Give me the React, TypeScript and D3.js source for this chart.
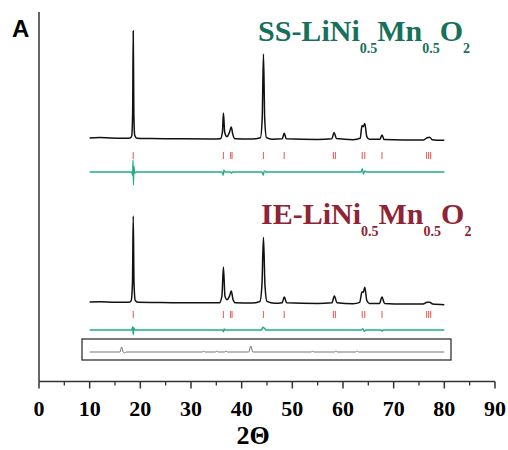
import React from "react";
import * as d3 from "d3";

// 2θ / intensity pairs
const ssPattern: [number, number][] = [
  [10, 2.8], [12, 3.1], [14, 2.8], [17, 2.6], [18.0, 2.8], [18.3, 4.5], [18.48, 25], [18.6, 100],
  [18.72, 25], [18.9, 5], [19.3, 2.6], [22, 2.3], [28, 2], [34, 1.8], [35.8, 2], [36.2, 8],
  [36.4, 25.5], [36.65, 8], [37.1, 4], [37.6, 8], [37.95, 12.7], [38.25, 6], [38.7, 2],
  [42, 1.8], [43.7, 3], [44.05, 20], [44.3, 79], [44.55, 20], [44.9, 3], [46, 1.6], [48.0, 2],
  [48.4, 7], [48.8, 2], [55, 1.4], [57.8, 2], [58.25, 7.7], [58.7, 2.2], [62, 1.2], [63.4, 2.5],
  [63.75, 14], [64.0, 13], [64.3, 16], [64.7, 4], [65.2, 1.5], [67.3, 1.6], [67.7, 5.5],
  [68.1, 1.4], [72, 1], [75.9, 1], [76.6, 3], [77.1, 3.5], [77.6, 1.2], [80, 0.6],
];

const iePattern: [number, number][] = [
  [10, 3.4], [12, 3.6], [15, 3.2], [17.8, 3.2], [18.2, 5], [18.45, 25], [18.6, 100],
  [18.75, 25], [19.0, 5], [19.5, 3], [24, 2.8], [30, 2.4], [35.6, 2.4], [36.1, 10],
  [36.4, 42.7], [36.7, 10], [37.1, 6], [37.6, 10], [37.95, 15.7], [38.3, 6], [38.8, 2.4],
  [42, 2.2], [43.6, 4], [44.0, 22], [44.3, 76], [44.6, 22], [45, 4], [46.5, 2], [48.0, 2.6],
  [48.4, 9], [48.9, 2.4], [55, 1.6], [57.8, 2.4], [58.3, 10], [58.8, 2.6], [62, 1.4],
  [63.3, 3], [63.75, 15], [64.0, 14], [64.3, 20], [64.7, 5], [65.2, 1.8], [67.2, 1.8],
  [67.7, 9], [68.2, 1.6], [72, 1], [75.8, 1], [76.6, 3], [77.1, 3.2], [77.7, 1], [80, 0.4],
];

// observed - calculated
const ssDiff: [number, number][] = [
  [10, 0], [18.3, 0], [18.48, -3], [18.56, 11], [18.64, -12], [18.74, 5], [18.9, -1], [19.2, 0],
  [36.1, 0], [36.35, -3], [36.5, 2], [36.7, 0], [37.8, 0], [38.0, -1], [38.2, 0],
  [44.0, 0], [44.25, -3], [44.45, 1], [44.7, 0], [63.6, 0], [63.8, 3], [64.05, -2],
  [64.3, 1], [64.6, 0], [80, 0],
];

const ieDiff: [number, number][] = [
  [10, 0], [18.3, 0], [18.5, 3], [18.6, -4], [18.72, 2], [18.9, 0], [36.2, 0], [36.4, -1.5],
  [36.55, 1], [36.8, 0], [43.9, 0], [44.2, 2.5], [44.5, 1.5], [44.8, 0], [63.6, 0],
  [63.9, 1.2], [64.2, -1.2], [64.5, 0], [67.5, 0], [67.7, -1], [67.9, 0], [80, 0],
];

// grey trace inside the bottom box
const boxTrace: [number, number][] = [
  [10, 0], [16.0, 0], [16.3, 5], [16.6, 0], [16.9, -0.8], [17.3, 0], [32.2, 0], [32.5, 0.8],
  [32.8, 0], [34.8, 0], [35.1, 0.8], [35.4, 0], [36.6, 0], [36.9, 0.8], [37.2, 0], [41.4, 0],
  [41.8, 6], [42.2, 0], [53.7, 0], [54.0, 0.7], [54.3, 0], [58.3, 0], [58.6, 1], [58.9, 0],
  [62.5, 0], [62.8, 1], [63.1, 0], [80, 0],
];

// Bragg reflection positions
const braggPositions = [18.6, 36.4, 37.8, 38.1, 44.3, 48.4, 58.1, 58.5, 63.8, 64.3, 67.7, 76.5, 76.9, 77.3];

const xTicks = [0, 10, 20, 30, 40, 50, 60, 70, 80, 90];
const xMinorTicks = [5, 15, 25, 35, 45, 55, 65, 75, 85];

const serif = "'Liberation Serif', 'Times New Roman', serif";

function Formula({ x, y, prefix, color }: { x: number; y: number; prefix: string; color: string }) {
  return (
    <text x={x} y={y} fill={color} fontFamily={serif} fontWeight="bold" fontSize={30}>
      {prefix}-LiNi
      <tspan fontSize={14} dy={12}>0.5</tspan>
      <tspan dy={-12}>Mn</tspan>
      <tspan fontSize={14} dy={12}>0.5</tspan>
      <tspan dy={-12}>O</tspan>
      <tspan fontSize={14} dy={12}>2</tspan>
    </text>
  );
}

export default function App() {
  const x = d3.scaleLinear().domain([0, 90]).range([39, 495]);

  const ySS = d3.scaleLinear().domain([0, 100]).range([141, 31]);
  const yIE = d3.scaleLinear().domain([0, 100]).range([305, 216]);
  const ySSDiff = d3.scaleLinear().domain([-10, 10]).range([183, 161]);
  const yIEDiff = d3.scaleLinear().domain([-10, 10]).range([341, 319]);
  const yBox = d3.scaleLinear().domain([0, 10]).range([352, 342]);

  const lineFor = (y: d3.ScaleLinear<number, number>) =>
    d3.line<[number, number]>()
      .x(d => x(d[0]))
      .y(d => y(d[1]))
      .curve(d3.curveMonotoneX);

  const axisY = 381.5;

  return (
    <svg width={508} height={450} style={{ position: "absolute", left: 0, top: 0, background: "#fff" }}>
      <text x={12} y={37} fontFamily="'Liberation Sans', Arial, sans-serif" fontWeight="bold" fontSize={24}>A</text>

      {/* axes */}
      <line x1={39} x2={39} y1={12} y2={axisY} stroke="#333" strokeWidth={1.5} />
      <line x1={39} x2={495} y1={axisY} y2={axisY} stroke="#333" strokeWidth={1.5} />
      {xTicks.map(t => (
        <g key={t}>
          <line x1={x(t)} x2={x(t)} y1={axisY} y2={axisY + 7} stroke="#333" strokeWidth={1.5} />
          <text x={x(t)} y={416} textAnchor="middle" fontFamily={serif} fontWeight="bold" fontSize={22}>{t}</text>
        </g>
      ))}
      {xMinorTicks.map(t => (
        <line key={t} x1={x(t)} x2={x(t)} y1={axisY} y2={axisY + 4} stroke="#333" strokeWidth={1.3} />
      ))}
      <text x={253} y={444} textAnchor="middle" fontFamily={serif} fontWeight="bold" fontSize={26}>2Θ</text>

      {/* SS panel */}
      <Formula x={258} y={41} prefix="SS" color="#16705a" />
      <path d={lineFor(ySS)(ssPattern) ?? ""} fill="none" stroke="#111" strokeWidth={1.5} />
      {braggPositions.map(p => (
        <line key={"s" + p} x1={x(p)} x2={x(p)} y1={152} y2={159} stroke="#e8706a" strokeWidth={1.2} />
      ))}
      <path d={lineFor(ySSDiff)(ssDiff) ?? ""} fill="none" stroke="#1fae86" strokeWidth={1.3} />

      {/* IE panel */}
      <Formula x={261} y={224} prefix="IE" color="#8e2434" />
      <path d={lineFor(yIE)(iePattern) ?? ""} fill="none" stroke="#111" strokeWidth={1.5} />
      {braggPositions.map(p => (
        <line key={"i" + p} x1={x(p)} x2={x(p)} y1={311} y2={318} stroke="#e8706a" strokeWidth={1.2} />
      ))}
      <path d={lineFor(yIEDiff)(ieDiff) ?? ""} fill="none" stroke="#1fae86" strokeWidth={1.5} />

      {/* boxed trace */}
      <rect x={82} y={339} width={369} height={21} fill="none" stroke="#333" strokeWidth={1.3} />
      <path d={lineFor(yBox)(boxTrace) ?? ""} fill="none" stroke="#777" strokeWidth={1} />
    </svg>
  );
}
